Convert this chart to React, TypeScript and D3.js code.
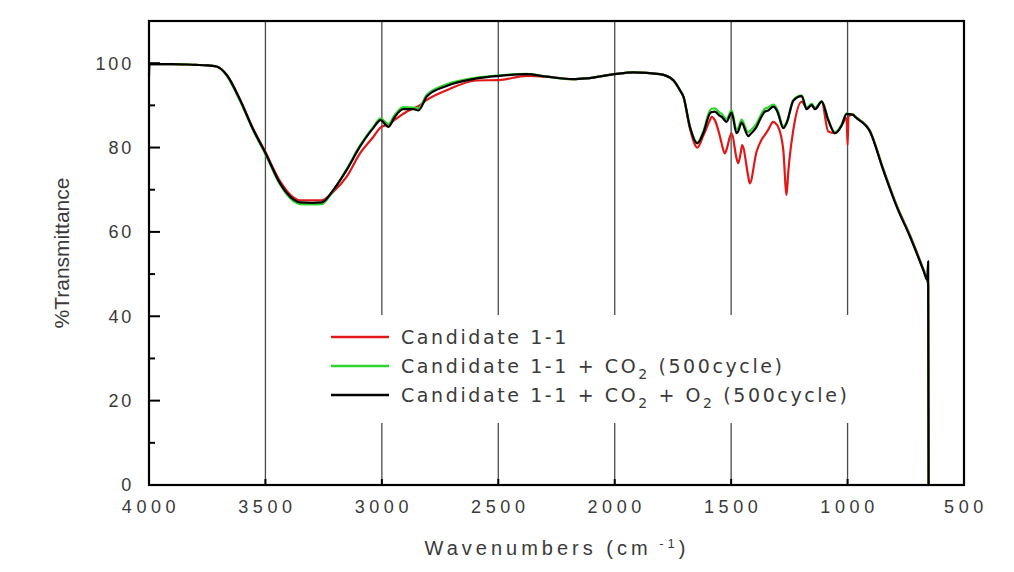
import React from 'react';
import * as d3 from 'd3';

// Wavenumber grid (cm-1) and %Transmittance values
const wavenumbers = [
  4000, 3998, 3900, 3800, 3750, 3710, 3666, 3609, 3552, 3499, 3437, 3380, 3352, 3300, 3258,
  3209, 3151, 3094, 3037, 3005, 2972, 2944, 2908, 2865, 2843, 2807, 2722, 2593, 2498, 2378,
  2292, 2178, 2120, 1999, 1920, 1806, 1749, 1720, 1705, 1677, 1645, 1620, 1591, 1584, 1570,
  1548, 1541, 1527, 1520, 1498, 1477, 1470, 1455, 1453, 1426, 1420, 1391, 1370, 1355, 1341,
  1319, 1305, 1298, 1276, 1262, 1255, 1250, 1233, 1197, 1176, 1154, 1140, 1111, 1083, 1054,
  1025, 1004, 1000, 996, 975, 968, 904, 847, 789, 732, 675, 658, 654, 652,
];

const candidate = [
  99.7, 99.8, 99.8, 99.6, 99.5, 99.2, 97.2, 91.4, 84.4, 78.8, 72.0, 68.2, 67.5, 67.5, 67.5,
  69.5, 73.1, 78.6, 82.5, 84.8, 85.5, 86.6, 88.0, 89.3, 89.8, 91.3, 93.6, 95.9, 96.0, 97.0,
  96.8, 96.2, 96.4, 97.4, 97.8, 97.4, 96.0, 93.6, 92.0, 84.5, 80.0, 82.8, 86.5, 87.3, 86.5,
  82.6, 81.0, 78.6, 79.5, 83.4, 77.5, 76.3, 80.0, 80.6, 73.0, 71.5, 79.0, 81.8, 83.0, 84.2,
  86.1, 85.5, 84.9, 79.4, 68.8, 74.0, 77.0, 84.2, 90.9, 89.5, 90.0, 89.1, 90.8, 83.8, 83.4,
  85.3, 87.0, 80.6, 87.5, 87.8, 87.4, 84.0, 75.0, 66.3, 59.2, 51.2, 48.6, 47.5, 0,
];

const candidateCO2 = [
  99.6, 99.8, 99.8, 99.6, 99.5, 99.2, 97.0, 91.0, 84.0, 78.3, 71.2, 67.3, 66.6, 66.5, 66.6,
  69.8, 74.9, 80.5, 84.9, 86.9, 85.6, 87.8, 89.6, 89.5, 89.3, 92.5, 95.0, 96.6, 97.1, 97.5,
  96.8, 96.2, 96.4, 97.4, 97.8, 97.4, 96.0, 93.6, 92.1, 85.0, 81.2, 83.8, 88.8, 89.2, 89.3,
  88.2, 88.0, 87.0, 86.8, 88.8, 84.3, 84.6, 86.6, 86.5, 83.6, 83.9, 85.7, 88.0, 89.2, 89.5,
  90.2, 89.4, 88.5, 85.0, 86.0, 87.0, 88.2, 91.3, 92.4, 89.4, 90.4, 89.4, 91.0, 86.7, 83.6,
  85.5, 88.1, 88.0, 88.0, 87.8, 87.4, 83.9, 74.8, 66.1, 59.0, 51.0, 48.6, 47.5, 0,
];

const candidateCO2O2 = [
  97.0, 99.8, 99.8, 99.6, 99.5, 99.2, 97.2, 91.3, 84.2, 78.6, 71.5, 67.7, 67.0, 66.9, 67.0,
  69.9, 74.7, 80.2, 84.6, 86.5, 84.9, 87.3, 89.1, 89.1, 88.8, 92.1, 94.6, 96.4, 97.0, 97.4,
  96.8, 96.2, 96.4, 97.4, 97.8, 97.4, 96.0, 93.6, 92.1, 84.9, 81.0, 83.4, 88.1, 88.4, 88.5,
  87.5, 87.3, 86.4, 86.1, 88.3, 83.4, 83.8, 85.9, 85.8, 82.7, 83.0, 84.9, 87.3, 88.5, 88.8,
  89.7, 88.9, 88.0, 84.6, 85.8, 86.9, 88.0, 91.1, 92.2, 89.1, 90.1, 89.1, 90.9, 86.5, 83.4,
  85.3, 88.0, 87.9, 87.9, 87.7, 87.3, 83.8, 74.7, 66.0, 58.9, 51.0, 48.6, 53.0, 0,
];

const xTicks = [4000, 3500, 3000, 2500, 2000, 1500, 1000, 500];
const gridTicks = [3500, 3000, 2500, 2000, 1500, 1000];
const yTicks = [0, 20, 40, 60, 80, 100];
const yMinorTicks = [10, 30, 50, 70, 90];

const seriesNames = ['Candidate 1-1', 'Candidate 1-1 + CO2 (500cycle)', 'Candidate 1-1 + CO2 + O2 (500cycle)'];
const seriesColors = ['#e01818', '#2fd62f', '#000000'];

const tickFont = 'Liberation Sans, Arial, sans-serif';

export default function App() {
  const left = 149, right = 964, top = 21, bottom = 485;
  const x = d3.scaleLinear().domain([4000, 500]).range([left, right]);
  const y = d3.scaleLinear().domain([0, 110]).range([bottom, top]);

  const makeLine = (vals: number[]) =>
    d3.line<number>()
      .x((_, i) => x(wavenumbers[i]))
      .y((d) => y(d))
      .curve(d3.curveMonotoneX)(vals) || '';

  const series = [candidate, candidateCO2, candidateCO2O2];

  const legX1 = 331, legX2 = 389, legTextX = 401;
  const legRows = [337, 366, 395];

  const textStyle = { fontFamily: 'DejaVu Sans, sans-serif', fontSize: 19, fill: '#3a3a3a', letterSpacing: 2.6 } as const;

  return (
    <svg width={1014} height={572} style={{ position: 'absolute', left: 0, top: 0, background: '#fff' }}>
      <rect x={0} y={0} width={1014} height={572} fill="#fff" />
      {/* vertical grid lines */}
      {gridTicks.map((t) => (
        <line key={'g' + t} x1={x(t)} x2={x(t)} y1={top} y2={bottom} stroke="#4a4a4a" strokeWidth={1.3} />
      ))}
      {/* x inner ticks */}
      {gridTicks.map((t) => (
        <line key={'xt' + t} x1={x(t)} x2={x(t)} y1={bottom - 6} y2={bottom} stroke="#000" strokeWidth={2} />
      ))}
      {/* legend background */}
      <rect x={292} y={315} width={608} height={108} fill="#fff" />

      {/* curves */}
      {series.map((s, i) => (
        <path key={'s' + i} d={makeLine(s)} fill="none" stroke={seriesColors[i]} strokeWidth={2.2} strokeLinejoin="round" />
      ))}

      {/* frame */}
      <rect x={left} y={top} width={right - left} height={bottom - top} fill="none" stroke="#000" strokeWidth={2.2} />
      {/* y ticks */}
      {yTicks.map((t) => (
        <line key={'yt' + t} x1={left} x2={left + 11} y1={y(t)} y2={y(t)} stroke="#000" strokeWidth={2} />
      ))}
      {yMinorTicks.map((t) => (
        <line key={'ym' + t} x1={left} x2={left + 6} y1={y(t)} y2={y(t)} stroke="#000" strokeWidth={2} />
      ))}
      {/* y tick labels */}
      {yTicks.map((t) => (
        <text key={'yl' + t} x={134} y={y(t)} dy="0.36em" textAnchor="end" style={{ ...textStyle, fontFamily: tickFont, fontSize: 18, letterSpacing: 2.8 }}>
          {t}
        </text>
      ))}
      {/* x tick labels */}
      {xTicks.map((t) => (
        <text key={'xl' + t} x={x(t) + 2} y={507} dy="0.36em" textAnchor="middle" style={{ ...textStyle, fontFamily: tickFont, fontSize: 18, letterSpacing: 4.6 }}>
          {t}
        </text>
      ))}

      {/* axis titles */}
      <text x={557} y={548} dy="0.36em" textAnchor="middle" style={{ ...textStyle, fontFamily: tickFont, fontSize: 20, letterSpacing: 4 }}>
        Wavenumbers (cm
        <tspan dy={-7} fontSize={13}>{' -1'}</tspan>
        <tspan dy={7}>)</tspan>
      </text>
      <text transform="translate(61,253) rotate(-90)" dy="0.36em" textAnchor="middle" style={{ fontFamily: tickFont, fontSize: 21, fill: '#3a3a3a' }}>
        %Transmittance
      </text>

      {/* legend */}
      {legRows.map((ry, i) => (
        <line key={'ll' + i} x1={legX1} x2={legX2} y1={ry} y2={ry} stroke={seriesColors[i]} strokeWidth={2.4} />
      ))}
      <text x={legTextX} y={legRows[0]} dy="0.36em" style={textStyle}>{seriesNames[0]}</text>
      <text x={legTextX} y={legRows[1]} dy="0.36em" style={textStyle}>
        Candidate 1-1 + CO
        <tspan dy={6} fontSize={14}>2</tspan>
        <tspan dy={-6}> (500cycle)</tspan>
      </text>
      <text x={legTextX} y={legRows[2]} dy="0.36em" style={textStyle}>
        Candidate 1-1 + CO
        <tspan dy={6} fontSize={14}>2</tspan>
        <tspan dy={-6}> + O</tspan>
        <tspan dy={6} fontSize={14}>2</tspan>
        <tspan dy={-6}> (500cycle)</tspan>
      </text>
    </svg>
  );
}
